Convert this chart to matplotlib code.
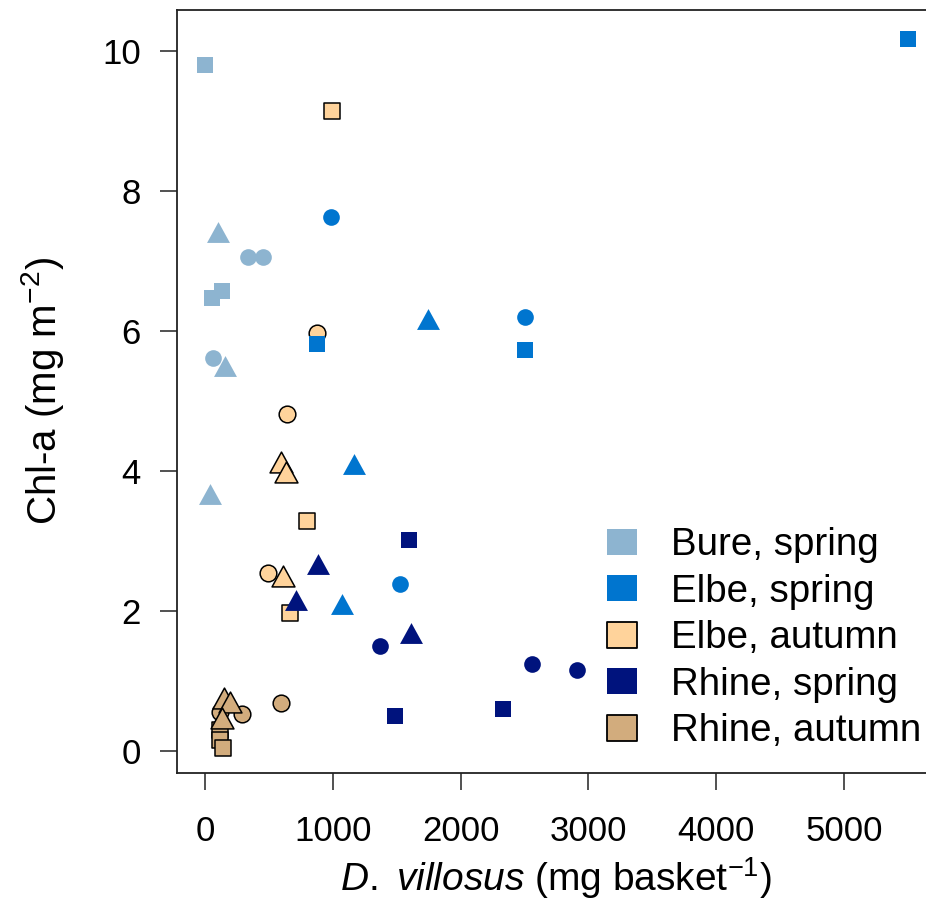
import matplotlib
matplotlib.use("Agg")
import matplotlib.pyplot as plt
from matplotlib.path import Path
from matplotlib.lines import Line2D

plt.rcParams['font.family'] = ['Liberation Sans', 'DejaVu Sans']
plt.rcParams['mathtext.fontset'] = 'custom'
plt.rcParams['mathtext.rm'] = 'Liberation Sans'
plt.rcParams['mathtext.it'] = 'Liberation Sans:italic'

# ---------------- data ----------------
groups = ["Bure, spring", "Elbe, spring", "Elbe, autumn", "Rhine, spring", "Rhine, autumn"]
colors = ["#8DB4D0", "#0075CF", "#FFD39B", "#00137D", "#D2AC7D"]

bure_sq_x = [0, 57, 131];       bure_sq_y = [9.80, 6.47, 6.57]
bure_ci_x = [334, 452, 65];     bure_ci_y = [7.05, 7.06, 5.62]
bure_tr_x = [104, 157, 39];     bure_tr_y = [7.41, 5.50, 3.68]

elbe_sp_sq_x = [5500, 875, 2503];  elbe_sp_sq_y = [10.16, 5.82, 5.73]
elbe_sp_ci_x = [987, 2503, 1527];  elbe_sp_ci_y = [7.63, 6.20, 2.39]
elbe_sp_tr_x = [1744, 1167, 1070]; elbe_sp_tr_y = [6.17, 4.10, 2.11]

elbe_au_sq_x = [997, 801, 666];    elbe_au_sq_y = [9.13, 3.29, 1.98]
elbe_au_ci_x = [875, 640, 491];    elbe_au_ci_y = [5.97, 4.82, 2.54]
elbe_au_tr_x = [595, 634, 613];    elbe_au_tr_y = [4.13, 3.98, 2.50]

rhine_sp_sq_x = [1600, 1483, 2328]; rhine_sp_sq_y = [3.01, 0.51, 0.61]
rhine_sp_ci_x = [1370, 2558, 2910]; rhine_sp_ci_y = [1.51, 1.25, 1.16]
rhine_sp_tr_x = [887, 713, 1613];   rhine_sp_tr_y = [2.68, 2.16, 1.69]

rhine_au_sq_x = [117, 117, 143];    rhine_au_sq_y = [0.30, 0.17, 0.05]
rhine_au_ci_x = [117, 287, 595];    rhine_au_ci_y = [0.57, 0.54, 0.69]
rhine_au_tr_x = [151, 196, 131];    rhine_au_tr_y = [0.76, 0.71, 0.48]

x_ticks = [0, 1000, 2000, 3000, 4000, 5000]
y_ticks = [0, 2, 4, 6, 8, 10]

# ---------------- markers ----------------
sq_marker = Path([(-1, -0.9), (1, -0.9), (1, 0.9), (-1, 0.9), (-1, -0.9)],
                 [Path.MOVETO, Path.LINETO, Path.LINETO, Path.LINETO, Path.CLOSEPOLY])
tri_marker = Path([(0, 0.91), (-1, -0.91), (1, -0.91), (0, 0.91)],
                  [Path.MOVETO, Path.LINETO, Path.LINETO, Path.CLOSEPOLY])
leg_marker = Path([(-1, -0.86), (1, -0.86), (1, 0.86), (-1, 0.86), (-1, -0.86)],
                  [Path.MOVETO, Path.LINETO, Path.LINETO, Path.LINETO, Path.CLOSEPOLY])

fig = plt.figure(figsize=(9.26, 9.13), dpi=100)
ax = fig.add_axes([177/926, (913-773)/913, (935-177)/926, 763/913])

def draw(xs, ys, marker, ms, color, edged):
    ax.plot(xs, ys, linestyle='none', marker=marker, markersize=ms,
            markerfacecolor=color,
            markeredgecolor='black' if edged else color,
            markeredgewidth=1.1 if edged else 0.0, clip_on=False)

series = [
    (4, rhine_au_sq_x, rhine_au_sq_y, rhine_au_ci_x, rhine_au_ci_y, rhine_au_tr_x, rhine_au_tr_y, True),
    (2, elbe_au_sq_x, elbe_au_sq_y, elbe_au_ci_x, elbe_au_ci_y, elbe_au_tr_x, elbe_au_tr_y, True),
    (0, bure_sq_x, bure_sq_y, bure_ci_x, bure_ci_y, bure_tr_x, bure_tr_y, False),
    (1, elbe_sp_sq_x, elbe_sp_sq_y, elbe_sp_ci_x, elbe_sp_ci_y, elbe_sp_tr_x, elbe_sp_tr_y, False),
    (3, rhine_sp_sq_x, rhine_sp_sq_y, rhine_sp_ci_x, rhine_sp_ci_y, rhine_sp_tr_x, rhine_sp_tr_y, False),
]
for gi, sx, sy, cx, cy, tx, ty, edged in series:
    c = colors[gi]
    draw(sx, sy, sq_marker, 12.2, c, edged)
    draw(cx, cy, 'o', 12.0, c, edged)
    draw(tx, ty, tri_marker, 16.5, c, edged)

ax.set_xlim(-219, 5712)
ax.set_ylim(-0.307, 10.578)
ax.set_xticks(x_ticks)
ax.set_yticks(y_ticks)
ax.set_xticklabels([str(v) for v in x_ticks])
ax.set_yticklabels([str(v) for v in y_ticks])
ax.tick_params(direction='out', length=12, width=1.1, labelsize=25, color='#222222')
ax.tick_params(axis='y', pad=14)
ax.tick_params(axis='x', pad=18)
for sp in ax.spines.values():
    sp.set_linewidth(1.3)
    sp.set_color('#222222')

ax.set_ylabel(r"Chl-a (mg m$^{-2}$)", fontsize=29)
ax.yaxis.set_label_coords(-0.146, 0.5)
ax.set_xlabel(r"$\mathit{D.}$ $\mathit{villosus}$ (mg basket$^{-1}$)", fontsize=28)
ax.xaxis.set_label_coords(0.5, -0.108)

handles = []
for gi, g in enumerate(groups):
    edged = gi in (2, 4)
    handles.append(Line2D([], [], linestyle='none', marker=leg_marker, markersize=21.6,
                          markerfacecolor=colors[gi],
                          markeredgecolor='black' if edged else colors[gi],
                          markeredgewidth=1.3 if edged else 0.0))
fig.legend(handles, groups, loc='upper left', bbox_to_anchor=(603/926, 1-527/913),
           frameon=False, fontsize=27.7, handlelength=1.0, handletextpad=0.77,
           labelspacing=0.275, borderpad=0, borderaxespad=0)

fig.savefig("out.png", dpi=100)
